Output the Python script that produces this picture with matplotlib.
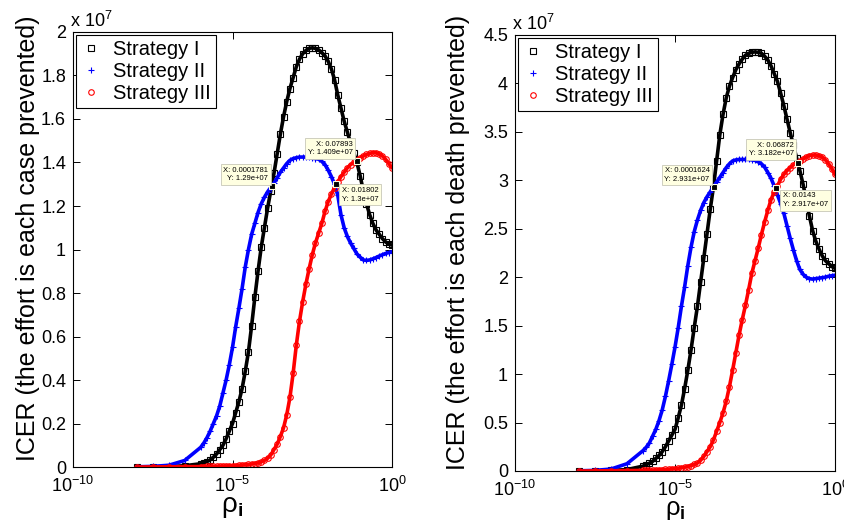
import numpy as np
import matplotlib
matplotlib.use('Agg')
import matplotlib.pyplot as plt
from matplotlib.ticker import FuncFormatter, NullLocator

plt.rcParams['font.family'] = ['Liberation Sans', 'DejaVu Sans']
plt.rcParams['mathtext.fontset'] = 'custom'
plt.rcParams['mathtext.rm'] = 'Liberation Sans'
plt.rcParams['mathtext.bf'] = 'Liberation Sans:bold'
plt.rcParams['mathtext.it'] = 'Liberation Sans:italic'

# log10(rho_i) where values were read
lg = np.r_[-8, -7.5, -7, -6.5, np.round(np.arange(-6, 0.01, 0.1), 1)]

# ICER per case prevented (x 1e7)
case_s1 = [0.000, 0.001, 0.002, 0.006,
           0.015, 0.019, 0.025, 0.033, 0.045, 0.06, 0.08, 0.10, 0.13, 0.165,
           0.20, 0.25, 0.30, 0.36, 0.44, 0.53, 0.65, 0.78, 0.90, 1.01,
           1.10, 1.19, 1.27, 1.35, 1.44, 1.53, 1.61, 1.68, 1.74, 1.79,
           1.84, 1.875, 1.90, 1.915, 1.925, 1.927, 1.925, 1.918, 1.905, 1.89,
           1.865, 1.83, 1.78, 1.71, 1.65, 1.59, 1.54, 1.49, 1.445, 1.40,
           1.34, 1.27, 1.21, 1.16, 1.12, 1.09, 1.07, 1.05, 1.035, 1.025, 1.02]
case_s2 = [0.001, 0.003, 0.008, 0.03,
           0.09, 0.11, 0.135, 0.165, 0.20, 0.235, 0.28, 0.34, 0.40, 0.47,
           0.55, 0.645, 0.73, 0.82, 0.92, 1.00, 1.07, 1.12, 1.17, 1.21,
           1.24, 1.265, 1.285, 1.305, 1.33, 1.355, 1.375, 1.395, 1.41, 1.418,
           1.422, 1.425, 1.425, 1.425, 1.423, 1.42, 1.418, 1.415, 1.405, 1.39,
           1.365, 1.335, 1.30, 1.25, 1.16, 1.10, 1.06, 1.03, 1.005, 0.98,
           0.965, 0.952, 0.95, 0.952, 0.957, 0.963, 0.97, 0.976, 0.982, 0.986, 0.99]
case_s3 = [0.000, 0.0005, 0.001, 0.0015,
           0.002, 0.0022, 0.0025, 0.0028, 0.003, 0.0035, 0.004, 0.0045, 0.005, 0.0055,
           0.006, 0.007, 0.008, 0.009, 0.0105, 0.012, 0.014, 0.016, 0.019, 0.024,
           0.03, 0.04, 0.055, 0.08, 0.105, 0.14, 0.18, 0.24, 0.32, 0.43,
           0.56, 0.67, 0.76, 0.84, 0.91, 0.975, 1.03, 1.075, 1.12, 1.175,
           1.22, 1.255, 1.285, 1.31, 1.335, 1.355, 1.375, 1.39, 1.40, 1.41,
           1.42, 1.43, 1.437, 1.442, 1.445, 1.445, 1.44, 1.43, 1.415, 1.395, 1.375]

# ICER per death prevented (x 1e7)
death_s1 = [0.0, 0.002, 0.005, 0.015,
            0.05, 0.065, 0.08, 0.10, 0.13, 0.16, 0.20, 0.25, 0.31, 0.37,
            0.43, 0.55, 0.68, 0.85, 1.04, 1.25, 1.48, 1.70, 1.95, 2.20,
            2.45, 2.70, 2.93, 3.20, 3.47, 3.68, 3.85, 3.97, 4.06, 4.14,
            4.20, 4.25, 4.29, 4.31, 4.32, 4.325, 4.32, 4.31, 4.28, 4.24,
            4.18, 4.10, 4.02, 3.90, 3.77, 3.63, 3.49, 3.36, 3.23, 3.10,
            2.96, 2.80, 2.63, 2.48, 2.37, 2.29, 2.22, 2.17, 2.14, 2.11, 2.09]
death_s2 = [0.002, 0.006, 0.02, 0.075,
            0.21, 0.245, 0.29, 0.36, 0.43, 0.52, 0.63, 0.77, 0.93, 1.10,
            1.28, 1.48, 1.70, 1.90, 2.12, 2.31, 2.47, 2.59, 2.69, 2.77,
            2.83, 2.88, 2.93, 2.98, 3.03, 3.08, 3.13, 3.17, 3.20, 3.21,
            3.215, 3.215, 3.215, 3.215, 3.21, 3.205, 3.19, 3.17, 3.135, 3.08,
            3.02, 2.94, 2.85, 2.76, 2.66, 2.53, 2.40, 2.28, 2.17, 2.08,
            2.03, 2.0, 1.985, 1.98, 1.985, 1.99, 1.995, 2.0, 2.01, 2.015, 2.02]
death_s3 = [0.0, 0.001, 0.002, 0.004,
            0.006, 0.007, 0.008, 0.009, 0.010, 0.012, 0.014, 0.016, 0.018, 0.021,
            0.024, 0.028, 0.033, 0.039, 0.046, 0.055, 0.067, 0.082, 0.11, 0.15,
            0.20, 0.25, 0.32, 0.41, 0.50, 0.60, 0.72, 0.87, 1.04, 1.22,
            1.40, 1.56, 1.71, 1.87, 2.04, 2.17, 2.30, 2.44, 2.57, 2.69,
            2.80, 2.88, 2.94, 3.01, 3.06, 3.10, 3.13, 3.16, 3.18, 3.20,
            3.22, 3.24, 3.255, 3.26, 3.26, 3.255, 3.24, 3.21, 3.17, 3.12, 3.06]

labels = ['Strategy I', 'Strategy II', 'Strategy III']

# data tips (x, y)
case_tips = [(0.0001781, 1.29e7), (0.07893, 1.409e7), (0.01802, 1.3e7)]
death_tips = [(0.0001624, 2.931e7), (0.06872, 3.182e7), (0.0143, 2.917e7)]
case_tip_txt = ['X: 0.0001781\nY: 1.29e+07', 'X: 0.07893\nY: 1.409e+07', 'X: 0.01802\nY: 1.3e+07']
death_tip_txt = ['X: 0.0001624\nY: 2.931e+07', 'X: 0.06872\nY: 3.182e+07', 'X: 0.0143\nY: 2.917e+07']

rho = 10.0 ** lg

fig = plt.figure(figsize=(8.45, 5.21), dpi=100)
ax1 = fig.add_axes([0.0864, 0.1036, 0.3775, 0.835])
ax2 = fig.add_axes([0.6095, 0.096, 0.3787, 0.837])

styles = [dict(color='k', marker='s', ms=4),
          dict(color='#0000ff', marker='+', ms=5),
          dict(color='#ff0000', marker='o', ms=4)]


def draw(ax, series, ymax, ystep, ylabel, tips, tiptxt, tip_off, ylab_x, xlab_y, xlab_fs):
    for s, st, lab in zip(series, styles, labels):
        y = np.array(s) * 1e7
        ax.plot(rho, y, '-', color=st['color'], lw=2.6, solid_capstyle='round')
        ax.plot(rho, y, ls='none', marker=st['marker'], ms=st['ms'], mec=st['color'],
                mfc='none', mew=0.8, label=lab)
    for (tx, ty), t, (dx, dy, ha, va) in zip(tips, tiptxt, tip_off):
        ax.plot(tx, ty, 's', ms=5, mfc='k', mec='#ffffe1', mew=0.8, zorder=5)
        ax.annotate(t, xy=(tx, ty), xytext=(dx, dy), textcoords='offset points',
                    ha=ha, va=va, fontsize=5.5, linespacing=1.3, zorder=6,
                    bbox=dict(boxstyle='square,pad=0.35', fc='#ffffe1', ec='#c8c8b8', lw=0.6))
    ax.set_xscale('log')
    ax.set_xlim(1e-10, 1)
    ax.set_ylim(0, ymax)
    ax.set_xticks([1e-10, 1e-5, 1])
    ax.xaxis.set_minor_locator(NullLocator())
    ax.set_yticks(np.arange(0, ymax + 1, ystep))
    ax.yaxis.set_major_formatter(FuncFormatter(lambda v, p: '%g' % round(v / 1e7, 2)))
    ax.tick_params(direction='in', length=5, width=0.7, top=True, right=True,
                   labelsize=13, pad=5)
    ax.tick_params(axis='x', pad=6.5)
    for sp in ax.spines.values():
        sp.set_linewidth(0.8)
    ax.set_ylabel(ylabel, fontsize=18)
    ax.yaxis.set_label_coords(ylab_x, 0.525)
    ax.set_xlabel('ρ$_{\\mathbf{i}}$', fontsize=xlab_fs)
    ax.xaxis.set_label_coords(0.5, xlab_y)
    ax.text(-0.008, 1.003, 'x 10$^{7}$', transform=ax.transAxes, fontsize=13,
            ha='left', va='bottom')
    leg = ax.legend(loc='upper left', fontsize=14.5, fancybox=False, framealpha=1,
                    edgecolor='k', borderaxespad=0.15, borderpad=0.25, labelspacing=0.15,
                    handlelength=1.0, handletextpad=0.6)
    leg.get_frame().set_linewidth(0.8)


draw(ax1, [case_s1, case_s2, case_s3], 2e7, 0.2e7,
     'ICER (the effort is each case prevented)', case_tips, case_tip_txt,
     [(-3, 3, 'right', 'bottom'), (-3, 3, 'right', 'bottom'), (4, -2, 'left', 'top')],
     -0.103, -0.062, 20)
draw(ax2, [death_s1, death_s2, death_s3], 4.5e7, 0.5e7,
     'ICER (the effort is each death prevented)', death_tips, death_tip_txt,
     [(-3, 3, 'right', 'bottom'), (-3, 4, 'right', 'bottom'), (5, -3, 'left', 'top')],
     -0.14, -0.061, 18.5)

fig.savefig('out.png', dpi=100, facecolor='white')
